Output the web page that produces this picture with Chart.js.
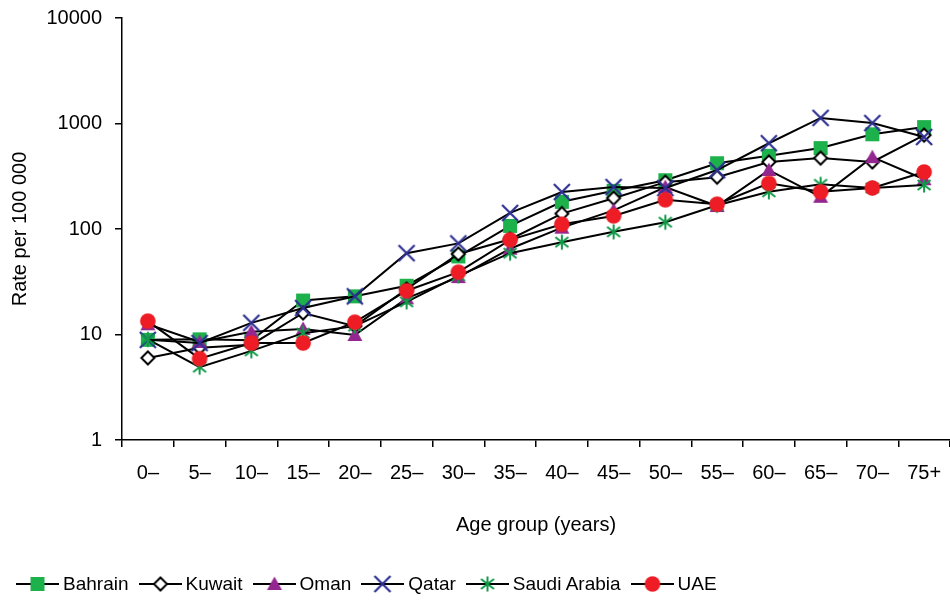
<!DOCTYPE html>
<html>
<head>
<meta charset="utf-8">
<script src="https://cdn.jsdelivr.net/npm/chart.js@4.4.0/dist/chart.umd.min.js"></script>
<style>
  body { margin: 0; background: #fff; }
  #wrap { position: relative; width: 950px; height: 600px; }
  #legend { position: absolute; left: 16px; top: 573px; display: flex; align-items: center;
            font: 19px "Liberation Sans", Arial, sans-serif; color: #000; }
  .item { display: flex; align-items: center; margin-right: 10px; }
  .item canvas { margin-right: 4px; }
</style>
</head>
<body>
<div id="wrap">
  <canvas id="chart" width="950" height="600"></canvas>
  <div id="legend"></div>
</div>
<script>
// Values (rate per 100 000)
const ageGroups = ['0–', '5–', '10–', '15–', '20–', '25–', '30–', '35–', '40–', '45–', '50–', '55–', '60–', '65–', '70–', '75+'];
const bahrain = [8.9, 9, 8.8, 21, 23, 29, 55, 107, 181, 230, 290, 420, 494, 585, 790, 925];
const kuwait  = [6, 7.5, 8, 16, 12, 27, 58, 80, 140, 196, 278, 310, 432, 470, 432, 776];
const oman    = [12.5, 8.5, 10.6, 11.3, 9.9, 22, 35, 65, 103, 150, 250, 165, 362, 202, 480, 296];
const qatar   = [8.9, 8.3, 12.9, 17.8, 23, 59, 73, 142, 224, 250, 245, 362, 650, 1130, 1010, 745];
const saudi   = [9, 4.9, 7, 10.3, 12, 20.4, 36, 59, 75, 94, 116, 168, 225, 265, 245, 261];
const uae     = [13.4, 5.9, 8.3, 8.3, 13.1, 26, 39, 79, 111, 133, 189, 172, 271, 225, 245, 347];
const yTicks  = [1, 10, 100, 1000, 10000];

// marker images, drawn by hand so chart and legend look the same
function makeMarker(kind) {
    const c = document.createElement('canvas');
    c.width = 22; c.height = 22;
    const g = c.getContext('2d');
    const x = 11, y = 11;
    if (kind === 'square') {
        g.fillStyle = '#1db14b';
        g.fillRect(x - 7, y - 7, 14, 14);
    } else if (kind === 'diamond') {
        g.beginPath();
        g.moveTo(x, y - 6.5); g.lineTo(x + 6.5, y); g.lineTo(x, y + 6.5); g.lineTo(x - 6.5, y);
        g.closePath();
        g.fillStyle = '#fff'; g.fill();
        g.lineWidth = 2; g.strokeStyle = '#000'; g.stroke();
    } else if (kind === 'triangle') {
        g.beginPath();
        g.moveTo(x, y - 7.5); g.lineTo(x + 7.5, y + 6); g.lineTo(x - 7.5, y + 6);
        g.closePath();
        g.fillStyle = '#93278f'; g.fill();
    } else if (kind === 'x') {
        g.beginPath();
        g.moveTo(x - 8, y - 8); g.lineTo(x + 8, y + 8);
        g.moveTo(x + 8, y - 8); g.lineTo(x - 8, y + 8);
        g.lineWidth = 2.2; g.strokeStyle = '#2e3192'; g.stroke();
    } else if (kind === 'star') {
        g.beginPath();
        g.moveTo(x, y - 7.5); g.lineTo(x, y + 7.5);
        g.moveTo(x - 6.5, y - 5); g.lineTo(x + 6.5, y + 5);
        g.moveTo(x + 6.5, y - 5); g.lineTo(x - 6.5, y + 5);
        g.lineWidth = 2; g.strokeStyle = '#119a48'; g.stroke();
    } else if (kind === 'circle') {
        g.beginPath();
        g.arc(x, y, 7.8, 0, Math.PI * 2);
        g.fillStyle = '#ee1c25'; g.fill();
    }
    return c;
}

const series = [
    { label: 'Bahrain', data: bahrain, marker: 'square', order: 5 },
    { label: 'Kuwait', data: kuwait, marker: 'diamond', order: 4 },
    { label: 'Oman', data: oman, marker: 'triangle', order: 3 },
    { label: 'Qatar', data: qatar, marker: 'x', order: 2 },
    { label: 'Saudi Arabia', data: saudi, marker: 'star', order: 1 },
    { label: 'UAE', data: uae, marker: 'circle', order: 0 }
];

const datasets = series.map(s => ({
    label: s.label,
    data: s.data,
    order: s.order,
    borderColor: '#000',
    borderWidth: 2,
    pointStyle: makeMarker(s.marker),
    fill: false,
    tension: 0
}));

Chart.defaults.font.family = '"Liberation Sans", Arial, sans-serif';
Chart.defaults.font.size = 20;
Chart.defaults.color = '#000';

const chart = new Chart(document.getElementById('chart'), {
    type: 'line',
    data: { labels: ageGroups, datasets: datasets },
    options: {
        responsive: false,
        animation: false,
        layout: { autoPadding: false, padding: { top: 18, left: 0, right: 0, bottom: 0 } },
        plugins: { legend: { display: false }, tooltip: { enabled: false } },
        scales: {
            x: {
                offset: true,
                grid: { offset: true, drawOnChartArea: false, drawTicks: true, tickLength: 7, color: '#000', lineWidth: 1.5 },
                border: { color: '#000', width: 1.5 },
                ticks: { padding: 14, maxRotation: 0, autoSkip: false },
                title: { display: true, text: 'Age group (years)', padding: { top: 0, bottom: 63 } },
                afterFit: scale => {
                    scale.height = 160;
                    scale.paddingLeft = 0;
                    scale.paddingRight = 0;
                }
            },
            y: {
                type: 'logarithmic',
                min: 1,
                max: 10000,
                grid: { drawOnChartArea: false, drawTicks: true, tickLength: 7, color: '#000', lineWidth: 1.5 },
                border: { color: '#000', width: 1.5 },
                ticks: { padding: 13, callback: v => String(v) },
                afterBuildTicks: scale => { scale.ticks = yTicks.map(v => ({ value: v, major: false })); },
                title: { display: true, text: 'Rate per 100 000', padding: { top: 8, bottom: 0 } },
                afterFit: scale => {
                    scale.width = 122;
                    scale.paddingTop = 0;
                    scale.paddingBottom = 0;
                }
            }
        }
    }
});

// legend: line with the marker in the middle, then the name
const legend = document.getElementById('legend');
series.forEach(s => {
    const item = document.createElement('div');
    item.className = 'item';
    const icon = document.createElement('canvas');
    icon.width = 43; icon.height = 22;
    const g = icon.getContext('2d');
    g.beginPath();
    g.moveTo(0, 11); g.lineTo(43, 11);
    g.lineWidth = 2; g.strokeStyle = '#000'; g.stroke();
    g.drawImage(makeMarker(s.marker), 10.5, 0);
    const txt = document.createElement('span');
    txt.textContent = s.label;
    item.appendChild(icon);
    item.appendChild(txt);
    legend.appendChild(item);
});
</script>
</body>
</html>
